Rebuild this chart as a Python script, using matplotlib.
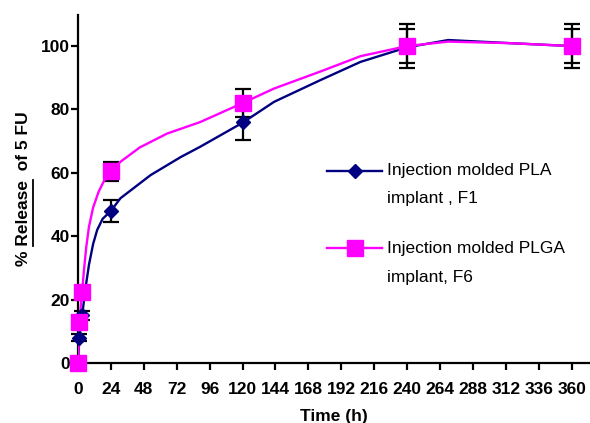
import matplotlib
matplotlib.use("Agg")
import matplotlib.pyplot as plt
from matplotlib.lines import Line2D
from matplotlib.font_manager import FontProperties

# Sampling times (h) and mean cumulative release (%) with SD
time_h = [0, 1, 3, 24, 120, 240, 360]
pla_f1 = [0, 8, 15, 48, 76, 100, 100]
pla_f1_sd = [0, 1, 1.5, 3.5, 5.5, 7, 7]
plga_f6 = [0, 13, 22.5, 60.5, 82, 100, 100]
plga_f6_sd = [0, 1, 1, 3, 4.3, 5.5, 5.5]

# Fitted release profiles
curve_t_f1 = [0, 1, 3, 5.6, 8, 11, 14, 18, 24, 31, 53, 75, 89, 120, 143, 177, 206, 240, 270, 316, 360]
curve_f1 = [0, 8, 15, 24, 31, 37.5, 42, 45.5, 48, 52, 59.3, 65, 68.2, 75.8, 82.4, 89.3, 95, 99.6, 101.9, 100.9, 100]
curve_t_f6 = [0, 1, 3, 4.4, 6, 8, 11, 15, 19, 24, 31, 45, 65, 89, 120, 143, 177, 206, 240, 270, 316, 360]
curve_f6 = [0, 13, 22.5, 29.5, 36.5, 43, 49, 54, 57.5, 60.5, 63.5, 68, 72.4, 76, 82, 86.6, 92, 96.8, 100, 101.4, 100.9, 100]

x_ticks = list(range(0, 361, 24))
y_ticks = [0, 20, 40, 60, 80, 100]
label_f1 = ["Injection molded PLA", "implant , F1"]
label_f6 = ["Injection molded PLGA", "implant, F6"]

NAVY = "#000080"
MAGENTA = "#FF00FF"

plt.rcParams["font.family"] = ["Liberation Sans", "DejaVu Sans"]

fig = plt.figure(figsize=(5.9, 4.23), dpi=100)
ax = fig.add_axes([78 / 590, 60 / 423, 512 / 590, 348 / 423])

# error bars underneath the markers
ax.errorbar(time_h, pla_f1, yerr=pla_f1_sd, fmt="none", ecolor="black",
            elinewidth=1.6, capsize=5.8, capthick=1.6, zorder=2, clip_on=False)
ax.errorbar(time_h, plga_f6, yerr=plga_f6_sd, fmt="none", ecolor="black",
            elinewidth=1.6, capsize=5.8, capthick=1.6, zorder=2, clip_on=False)

ax.plot(curve_t_f1, curve_f1, color=NAVY, lw=1.7, zorder=3, solid_joinstyle="round")
ax.plot(curve_t_f6, curve_f6, color=MAGENTA, lw=1.7, zorder=3, solid_joinstyle="round")

ax.plot(time_h, pla_f1, ls="none", marker="D", ms=7, color=NAVY, mec=NAVY,
        zorder=4, clip_on=False)
ax.plot(time_h, plga_f6, ls="none", marker="s", ms=11.5, color=MAGENTA, mec=MAGENTA,
        zorder=5, clip_on=False)

ax.set_xlim(0, 373.4)
ax.set_ylim(0, 109.8)
ax.set_xticks(x_ticks)
ax.set_yticks(y_ticks)

for side in ("top", "right"):
    ax.spines[side].set_visible(False)
for side in ("left", "bottom"):
    ax.spines[side].set_linewidth(1.6)
ax.tick_params(axis="both", direction="out", length=5, width=1.6, labelsize=12.5)
ax.tick_params(axis="y", pad=1)
ax.tick_params(axis="x", pad=8.5)
for lab in ax.get_xticklabels() + ax.get_yticklabels():
    lab.set_fontweight("bold")

ax.set_xlabel("Time (h)", fontsize=12.5, fontweight="bold", labelpad=9)
ylab_text = "% Release  of 5 FU"
ax.set_ylabel(ylab_text, fontsize=12.5, fontweight="bold", labelpad=7)

# legend drawn by hand: handle aligned with the first line of each label
def legend_entry(y_handle, y_line1, y_line2, color, marker, ms, lines):
    ax.add_line(Line2D([0.4857, 0.5932], [y_handle, y_handle], transform=ax.transAxes,
                       color=color, lw=1.7, clip_on=False))
    ax.add_line(Line2D([0.541], [y_handle], transform=ax.transAxes, ls="none",
                       marker=marker, ms=ms, color=color, clip_on=False))
    for yy, s in zip((y_line1, y_line2), lines):
        ax.text(0.6029, yy, s, transform=ax.transAxes, fontsize=12.5,
                va="baseline", ha="left", color="black")

legend_entry(0.551, 0.540, 0.459, NAVY, "D", 7, label_f1)
legend_entry(0.3296, 0.317, 0.2336, MAGENTA, "s", 11.5, label_f6)

# underline the word "Release" in the y label
fig.canvas.draw()
renderer = fig.canvas.get_renderer()
ylab = ax.yaxis.label
bb = ylab.get_window_extent(renderer)
fp = FontProperties(family=plt.rcParams["font.family"], size=12.5, weight="bold")
w_pre, _, _ = renderer.get_text_width_height_descent("% ", fp, ismath=False)
w_word, _, _ = renderer.get_text_width_height_descent("Release", fp, ismath=False)
x_u = bb.x1 + 2
y0 = bb.y0 + w_pre
y1 = y0 + w_word
inv = fig.transFigure.inverted()
(fx, fy0) = inv.transform((x_u, y0))
(_, fy1) = inv.transform((x_u, y1))
fig.add_artist(Line2D([fx, fx], [fy0, fy1], transform=fig.transFigure,
                      color="black", lw=1.3))

fig.savefig("out.png", dpi=100)
